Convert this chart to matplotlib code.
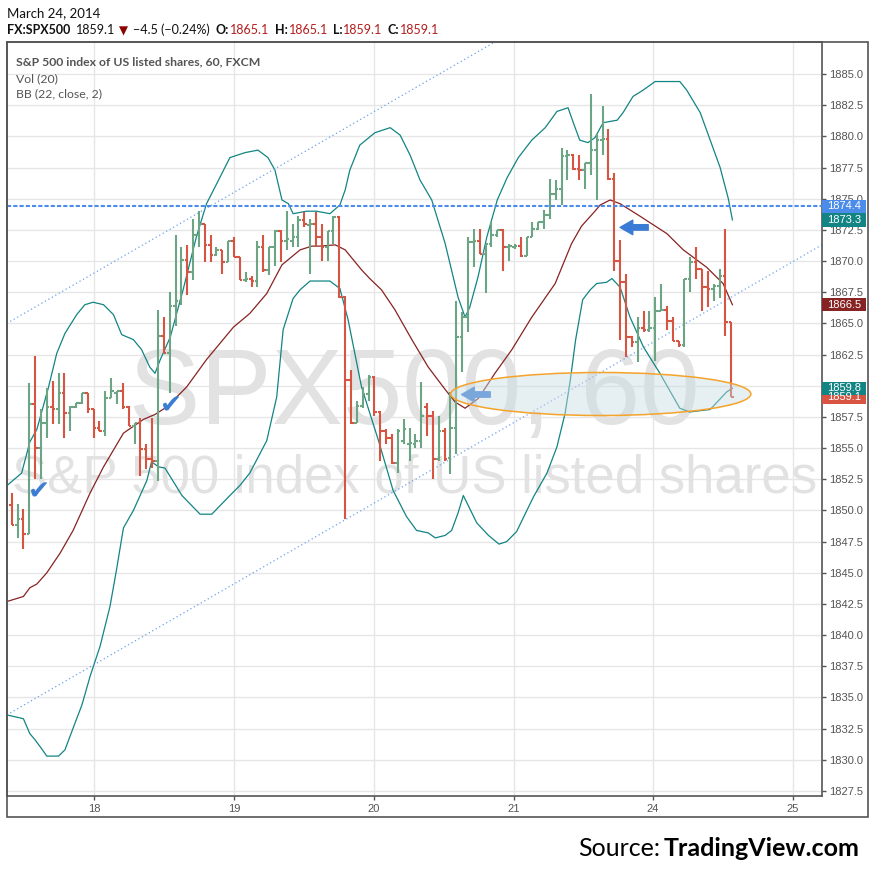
import numpy as np
import matplotlib
matplotlib.use("Agg")
import matplotlib.pyplot as plt
from matplotlib.collections import LineCollection
from matplotlib.patches import Ellipse, Rectangle

# ===============================
# DATA (60 min bars)
# ===============================
opens = [1850.4, 1848.8, 1849.3, 1848.1, 1858.5, 1855.0, 1857.0, 1858.3, 1858.1, 1859.4,
         1857.8, 1858.3, 1858.6, 1859.4, 1858.1, 1856.6, 1856.4, 1859.0, 1859.4, 1859.6,
         1858.3, 1856.8, 1857.0, 1854.9, 1854.1, 1854.0, 1864.0, 1862.6, 1866.4, 1866.8,
         1870.1, 1869.1, 1872.1, 1873.0, 1871.3, 1870.5, 1870.9, 1869.9, 1871.6, 1870.3,
         1868.5, 1868.6, 1868.4, 1871.1, 1869.3, 1871.1, 1872.4, 1871.6, 1871.6, 1871.9,
         1873.3, 1872.9, 1873.0, 1871.9, 1871.1, 1872.4, 1873.5, 1867.1, 1860.5, 1857.0,
         1858.4, 1859.3, 1860.7, 1857.9, 1856.4, 1855.8, 1853.8, 1855.6, 1855.3, 1855.3,
         1855.6, 1858.3, 1857.6, 1854.1, 1856.4, 1854.2, 1856.6, 1863.9, 1865.5, 1871.5,
         1871.6, 1870.6, 1871.4, 1872.1, 1872.5, 1871.1, 1871.1, 1871.2, 1870.4, 1871.9,
         1872.6, 1873.1, 1873.7, 1875.4, 1875.8, 1878.4, 1878.5, 1877.4, 1877.3, 1877.9,
         1878.9, 1879.7, 1879.8, 1876.6, 1870.0, 1868.3, 1863.9, 1863.5, 1864.6, 1864.5,
         1864.6, 1866.0, 1866.1, 1865.2, 1863.6, 1863.3, 1868.6, 1869.9, 1869.4, 1867.9,
         1867.8, 1868.0, 1868.8, 1865.1]
highs = [1851.4, 1850.5, 1850.1, 1860.2, 1862.4, 1858.1, 1859.8, 1860.4, 1861.0, 1861.0,
         1858.4, 1858.6, 1859.4, 1859.4, 1858.1, 1857.2, 1859.6, 1860.6, 1859.6, 1860.2,
         1858.4, 1857.0, 1857.4, 1855.3, 1857.4, 1866.1, 1865.5, 1867.5, 1872.1, 1871.1,
         1871.3, 1873.4, 1874.0, 1873.0, 1872.1, 1871.1, 1870.9, 1871.6, 1871.9, 1870.3,
         1869.1, 1868.8, 1871.6, 1872.1, 1871.1, 1872.5, 1872.5, 1874.0, 1873.0, 1873.6,
         1873.9, 1873.4, 1873.9, 1873.0, 1872.4, 1873.6, 1873.6, 1867.2, 1861.3, 1858.8,
         1859.9, 1860.9, 1860.8, 1858.0, 1856.5, 1856.1, 1856.5, 1857.3, 1856.6, 1856.1,
         1860.3, 1858.6, 1858.0, 1857.6, 1856.6, 1859.5, 1866.8, 1865.9, 1871.9, 1872.6,
         1872.6, 1871.4, 1873.1, 1872.5, 1872.6, 1871.4, 1871.4, 1871.9, 1871.9, 1873.1,
         1873.1, 1874.1, 1876.6, 1876.5, 1879.1, 1878.9, 1878.6, 1878.5, 1877.9, 1883.4,
         1880.2, 1882.4, 1880.6, 1877.1, 1871.7, 1869.0, 1864.0, 1865.5, 1866.0, 1866.0,
         1867.1, 1868.2, 1866.4, 1865.5, 1863.6, 1868.6, 1870.3, 1871.1, 1869.4, 1869.2,
         1868.2, 1869.4, 1872.6, 1865.1]
lows = [1848.8, 1847.8, 1846.9, 1848.1, 1852.5, 1852.5, 1855.8, 1856.9, 1856.9, 1855.8,
        1856.4, 1858.2, 1858.5, 1857.8, 1855.8, 1856.4, 1856.0, 1859.0, 1858.5, 1858.1,
        1856.8, 1855.3, 1852.8, 1853.3, 1853.4, 1852.4, 1862.6, 1859.4, 1864.8, 1866.5,
        1867.3, 1868.5, 1871.1, 1869.9, 1869.9, 1870.4, 1869.0, 1869.9, 1870.3, 1868.5,
        1868.3, 1867.9, 1867.9, 1869.1, 1868.9, 1869.6, 1869.9, 1870.9, 1871.1, 1871.1,
        1872.7, 1869.0, 1871.2, 1870.0, 1870.0, 1871.4, 1867.0, 1849.3, 1856.9, 1857.0,
        1858.2, 1858.8, 1857.6, 1854.0, 1855.3, 1853.7, 1853.0, 1855.3, 1854.0, 1855.0,
        1855.0, 1856.0, 1852.5, 1854.0, 1854.0, 1852.9, 1854.5, 1861.1, 1864.3, 1869.5,
        1870.6, 1867.4, 1871.1, 1871.9, 1869.2, 1870.0, 1871.0, 1870.3, 1870.4, 1871.9,
        1872.5, 1872.6, 1873.4, 1874.9, 1874.5, 1876.5, 1877.3, 1876.5, 1875.8, 1876.9,
        1874.9, 1878.5, 1876.5, 1869.2, 1863.7, 1862.3, 1863.1, 1861.9, 1864.3, 1864.3,
        1862.0, 1866.0, 1864.5, 1863.6, 1863.1, 1863.1, 1867.5, 1868.6, 1866.0, 1866.3,
        1866.8, 1867.0, 1864.0, 1859.1]
closes = [1848.8, 1849.3, 1848.1, 1858.5, 1855.0, 1857.0, 1858.3, 1858.1, 1859.4, 1857.8,
          1858.3, 1858.6, 1859.4, 1858.1, 1856.6, 1856.4, 1859.0, 1859.6, 1859.6, 1858.3,
          1856.8, 1857.0, 1854.9, 1854.1, 1854.0, 1864.0, 1862.6, 1866.4, 1866.8, 1870.1,
          1869.1, 1872.1, 1873.0, 1871.3, 1870.5, 1870.9, 1869.9, 1871.6, 1870.3, 1868.5,
          1868.6, 1868.4, 1871.1, 1869.3, 1871.1, 1872.4, 1871.6, 1871.8, 1871.9, 1873.3,
          1873.0, 1873.0, 1871.9, 1871.1, 1872.4, 1873.5, 1867.1, 1860.5, 1857.0, 1858.4,
          1859.3, 1860.7, 1857.9, 1856.4, 1855.8, 1853.8, 1856.4, 1856.5, 1855.4, 1855.6,
          1857.6, 1857.6, 1854.1, 1856.4, 1854.1, 1856.6, 1863.9, 1865.5, 1871.5, 1871.6,
          1870.6, 1871.4, 1872.1, 1872.5, 1871.1, 1871.2, 1871.2, 1870.4, 1871.9, 1872.6,
          1873.1, 1873.7, 1875.4, 1875.8, 1878.4, 1878.5, 1877.4, 1877.3, 1877.9, 1878.9,
          1879.7, 1879.8, 1876.6, 1870.0, 1868.3, 1863.9, 1863.5, 1864.6, 1864.5, 1864.6,
          1866.0, 1866.1, 1865.2, 1863.6, 1863.3, 1868.6, 1869.9, 1869.4, 1867.9, 1867.8,
          1868.0, 1868.8, 1865.1, 1859.1]

# Bollinger bands as (bar position, price)
bb_upper = [(-0.8, 1852.0), (1.7, 1853.0), (3.1, 1855.5), (4.3, 1856.5), (6.3, 1859.9),
            (7.7, 1862.6), (9.1, 1864.2), (11.1, 1865.7), (12.5, 1866.5), (13.9, 1866.7),
            (15.7, 1866.5), (17.4, 1865.7), (18.8, 1864.1), (20.8, 1863.7), (22.2, 1862.9),
            (23.6, 1861.5), (24.5, 1861.0), (25.4, 1862.1), (27.1, 1863.9), (29.3, 1867.7),
            (31.6, 1872.0), (33.3, 1874.6), (34.5, 1875.7), (37.3, 1878.3), (39.9, 1878.7),
            (42.1, 1878.9), (43.8, 1878.3), (45.0, 1877.3), (46.2, 1874.9), (47.3, 1874.6),
            (48.1, 1873.8), (50.4, 1874.0), (52.1, 1874.0), (54.4, 1873.8), (56.1, 1874.5),
            (57.0, 1875.7), (57.8, 1877.3), (59.5, 1879.3), (62.1, 1880.3), (64.7, 1880.7),
            (66.4, 1880.1), (68.1, 1878.5), (69.8, 1876.5), (71.8, 1874.9), (74.1, 1871.4),
            (76.3, 1867.1), (77.5, 1865.5), (78.3, 1866.3), (79.7, 1868.7), (81.2, 1871.9),
            (83.0, 1874.9), (84.7, 1876.7), (86.6, 1878.3), (88.9, 1879.7), (91.2, 1880.7),
            (93.2, 1882.0), (95.1, 1882.3), (96.0, 1881.1), (97.1, 1879.7), (98.5, 1879.5),
            (99.7, 1879.9), (101.1, 1881.1), (103.5, 1881.3), (104.5, 1881.9), (106.2, 1883.2),
            (107.9, 1883.7), (110.0, 1884.4), (112.5, 1884.4), (114.2, 1884.4), (115.4, 1883.7),
            (117.7, 1881.9), (119.4, 1879.7), (121.1, 1877.5), (122.5, 1875.0), (123.2, 1873.3)]
bb_basis = [(-0.8, 1842.7), (2.0, 1843.1), (3.1, 1843.8), (4.3, 1844.1), (6.0, 1845.0),
            (8.3, 1846.6), (10.5, 1848.4), (13.4, 1851.4), (15.7, 1853.5), (19.1, 1856.2),
            (22.5, 1857.3), (24.5, 1857.7), (26.5, 1858.3), (29.9, 1859.9), (33.3, 1862.1),
            (37.9, 1864.7), (40.7, 1865.8), (43.6, 1867.4), (46.2, 1869.7), (49.3, 1870.9),
            (51.3, 1871.2), (52.7, 1871.2), (55.3, 1871.3), (57.0, 1870.9), (58.4, 1870.1),
            (59.8, 1869.3), (61.2, 1868.6), (63.2, 1867.7), (65.5, 1866.1), (68.4, 1863.7),
            (71.2, 1861.5), (74.1, 1859.7), (75.8, 1858.7), (77.5, 1858.2), (79.8, 1859.0),
            (82.6, 1861.0), (85.5, 1862.9), (88.9, 1865.5), (92.9, 1868.2), (95.7, 1871.4),
            (97.4, 1872.8), (99.7, 1874.0), (100.6, 1874.5), (102.3, 1874.9), (104.0, 1874.6),
            (107.4, 1873.6), (112.0, 1872.2), (114.8, 1870.9), (118.8, 1869.5), (121.6, 1868.2),
            (123.2, 1866.5)]
bb_lower = [(-0.8, 1833.6), (2.0, 1833.3), (3.1, 1832.1), (4.0, 1831.6), (5.1, 1830.9),
            (6.0, 1830.3), (8.0, 1830.3), (9.1, 1830.8), (10.3, 1832.3), (12.0, 1834.4),
            (13.4, 1836.7), (15.1, 1839.1), (16.8, 1842.3), (17.9, 1845.2), (19.1, 1848.6),
            (20.8, 1850.0), (23.1, 1852.4), (23.9, 1853.9), (25.1, 1853.5), (26.2, 1853.4),
            (29.1, 1851.2), (32.2, 1849.7), (34.2, 1849.7), (37.3, 1851.2), (39.0, 1852.0),
            (40.7, 1853.0), (43.6, 1855.6), (45.3, 1859.1), (46.4, 1864.5), (48.1, 1867.0),
            (49.3, 1867.7), (51.0, 1868.4), (54.4, 1868.4), (56.1, 1867.8), (57.5, 1865.3),
            (59.8, 1859.9), (62.7, 1855.6), (65.2, 1851.6), (67.5, 1849.5), (69.2, 1848.4),
            (71.2, 1848.2), (72.4, 1847.8), (74.1, 1848.0), (75.2, 1848.4), (76.3, 1849.8),
            (77.2, 1851.2), (79.5, 1849.0), (81.5, 1848.0), (83.3, 1847.3), (84.6, 1847.5),
            (86.3, 1848.3), (89.2, 1851.1), (91.5, 1853.0), (93.2, 1855.1), (94.6, 1857.8),
            (95.5, 1860.5), (96.4, 1863.7), (97.6, 1866.9), (98.9, 1867.7), (100.0, 1868.2),
            (101.7, 1868.3), (102.6, 1868.6), (104.0, 1867.9), (105.7, 1865.5), (108.0, 1863.1),
            (110.8, 1861.0), (114.2, 1858.2), (115.9, 1857.9), (119.4, 1858.1), (122.2, 1859.5),
            (123.2, 1859.8)]

# drawings on the chart
trend_x = [-0.85, 138.5]
trend_upper = [1865.0, 1902.7]
trend_lower = [1833.6, 1871.3]
hline_price = 1874.4

day_labels = ["18", "19", "20", "21", "24", "25"]
day_pos = [14.1, 38.0, 61.9, 85.8, 109.6, 133.5]

price_tags = [(1874.4, "#4b8ceb"), (1873.3, "#138484"), (1866.5, "#872323"),
              (1859.1, "#d75442"), (1859.8, "#138484")]

UP = "#6ba583"
DOWN = "#d75442"
GRID = "#e6e6e6"
AX = "#555555"

W, H = 875, 874


def fx(x):
    return x / W


def fy(y):
    return 1 - y / H


fig = plt.figure(figsize=(W / 100, H / 100), dpi=100)
fig.patch.set_facecolor("white")

ax = fig.add_axes([fx(6.7), fy(796), 815 / W, 754 / H])
ax.set_xlim(-0.855, 138.46)
ax.set_ylim(1827.1, 1887.57)
ax.set_axisbelow(True)

# ===============================
# WATERMARK
# ===============================
ax.text(0.5, 0.494, "SPX500, 60", transform=ax.transAxes, ha="center", va="baseline",
        fontsize=77, color="#e2e2e2", family="Liberation Sans", zorder=0.6)
ax.text(0.5, 0.402, "S&P 500 index of US listed shares", transform=ax.transAxes,
        ha="center", va="baseline", fontsize=38, color="#e2e2e2",
        family="Liberation Sans", zorder=0.6)

# ===============================
# BOLLINGER BANDS + DRAWINGS
# ===============================
for pts, col in [(bb_upper, "#138484"), (bb_lower, "#138484"), (bb_basis, "#872323")]:
    xs, ys = zip(*pts)
    ax.plot(xs, ys, color=col, lw=0.9, zorder=2)

ax.plot(trend_x, trend_upper, color="#6f9ff0", lw=0.9, ls=(0, (1, 2.2)), zorder=2.2)
ax.plot(trend_x, trend_lower, color="#6f9ff0", lw=0.9, ls=(0, (1, 2.2)), zorder=2.2)

# ===============================
# OHLC BARS
# ===============================
segs, cols = [], []
tick = 0.45
for i in range(len(opens)):
    c = UP if closes[i] >= opens[i] else DOWN
    segs += [[(i, lows[i]), (i, highs[i])],
             [(i - tick, opens[i]), (i, opens[i])],
             [(i, closes[i]), (i + tick, closes[i])]]
    cols += [c, c, c]
ax.add_collection(LineCollection(segs, colors=cols, linewidths=1.5,
                                 capstyle="butt", zorder=3))

ax.axhline(hline_price, color="#4b8ceb", lw=1.5, ls=(0, (2, 1)), zorder=4)

# arrows and check marks
ax.annotate("", xy=(76.9, 1859.3), xytext=(81.8, 1859.3),
            arrowprops=dict(arrowstyle="simple,head_length=0.7,head_width=0.8,tail_width=0.3",
                            color="#3a7bd5", shrinkA=0, shrinkB=0, mutation_scale=13),
            zorder=5)
ax.annotate("", xy=(104.0, 1872.7), xytext=(108.8, 1872.7),
            arrowprops=dict(arrowstyle="simple,head_length=0.7,head_width=0.8,tail_width=0.3",
                            color="#3a7bd5", shrinkA=0, shrinkB=0, mutation_scale=13),
            zorder=7)
for cx, cy in [(4.7, 1851.4), (27.2, 1858.3)]:
    ax.text(cx, cy, "\u2714", ha="center", va="center", fontsize=19,
            color="#3b7dd3", family="DejaVu Sans", zorder=7)

# highlighted ellipse
ax.add_patch(Ellipse((100.7, 1859.34), 51.3, 3.45, facecolor="#c8dde3",
                     edgecolor="none", alpha=0.45, zorder=6))
ax.add_patch(Ellipse((100.7, 1859.34), 51.3, 3.45, facecolor="none",
                     edgecolor="#f5a32a", lw=1.1, zorder=6))

# ===============================
# AXES STYLE
# ===============================
ax.grid(True, color=GRID, lw=1)
ax.set_yticks(np.arange(1827.5, 1885.1, 2.5))
ax.yaxis.tick_right()
ax.yaxis.set_major_formatter(matplotlib.ticker.FormatStrFormatter("%.1f"))
ax.set_xticks(day_pos)
ax.set_xticklabels(day_labels)
ax.tick_params(axis="both", colors=AX, labelsize=8, length=3, width=1)
ax.tick_params(axis="y", pad=2)
ax.tick_params(axis="x", pad=3)
for lab in ax.get_xticklabels() + ax.get_yticklabels():
    lab.set_family("Liberation Sans")
for s in ax.spines.values():
    s.set_color(AX)
    s.set_linewidth(1.2)

# last-value tags on the price scale
ytr = ax.get_yaxis_transform()
for price, col in price_tags:
    ax.add_patch(Rectangle((1.0, price - 0.535), 44 / 815, 1.07, transform=ytr,
                           facecolor=col, edgecolor="none", clip_on=False, zorder=10))
    ax.text(1.0 + 5 / 815, price, f"{price:.1f}", transform=ytr, va="center",
            ha="left", fontsize=8, color="white", family="Liberation Sans",
            clip_on=False, zorder=11)

# outer frame
fig.add_artist(Rectangle((fx(6.7), fy(817)), (868 - 6.7) / W, (817 - 42) / H,
                         transform=fig.transFigure, fill=False, ec=AX, lw=1.2))

# ===============================
# HEADER / LEGEND TEXT
# ===============================
hf = ["Lato", "DejaVu Sans"]
fig.text(fx(7.3), fy(16.7), "March 24, 2014", fontsize=9.5, color="#111111", family=hf)
row = 34.3
fig.text(fx(7.3), fy(row), "FX:SPX500", fontsize=9, weight="bold", color="#111111", family=hf)
fig.text(fx(76), fy(row), "1859.1", fontsize=9, color="#111111", family=hf)
fig.text(fx(119), fy(row), "\u25BC", fontsize=8.5, color="#8b0000", family=["DejaVu Sans"])
fig.text(fx(132.7), fy(row), "\u22124.5 (\u22120.24%)", fontsize=9, color="#111111", family=hf)
for xl, lab, xv, val in [(216, "O:", 230, "1865.1"), (275, "H:", 288.7, "1865.1"),
                         (332.7, "L:", 343.3, "1859.1"), (387.7, "C:", 400, "1859.1")]:
    fig.text(fx(xl), fy(row), lab, fontsize=9, weight="bold", color="#111111", family=hf)
    fig.text(fx(xv), fy(row), val, fontsize=9, color="#b41e1e", family=hf)

fig.text(fx(15.7), fy(65), "S&P 500 index of US listed shares, 60, FXCM", fontsize=8.8,
         weight="bold", color=AX, family=hf)
fig.text(fx(15.7), fy(82), "Vol (20)", fontsize=8.8, color=AX, family=hf)
fig.text(fx(15.7), fy(97.5), "BB (22, close, 2)", fontsize=8.8, color=AX, family=hf)

src = fig.text(fx(860), fy(856), "TradingView.com", fontsize=18, weight="bold",
               color="black", family=hf, ha="right")
fig.canvas.draw()
bb = src.get_window_extent()
fig.text(bb.x0 / (W) - 0.004, fy(856), "Source:", fontsize=18, color="black",
         family=hf, ha="right")

fig.savefig("out.png", dpi=100)
